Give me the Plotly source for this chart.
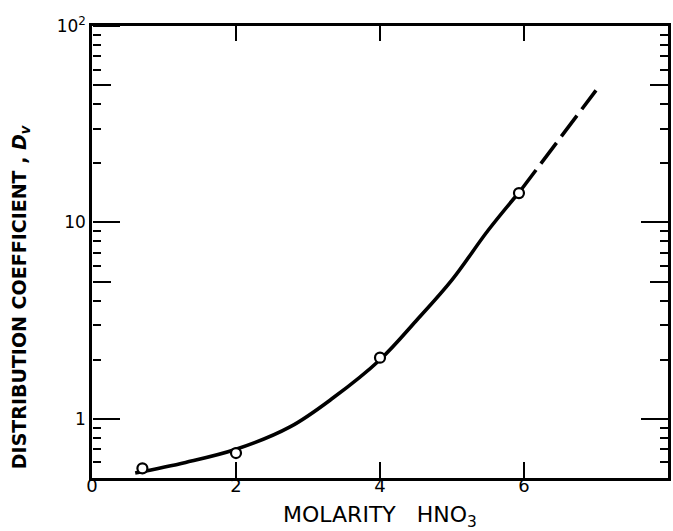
import plotly.graph_objects as go
import math

# Smooth fitted curve (solid)
curve_x = [0.6, 1.3, 2.0, 2.75, 3.35, 4.0, 4.5, 5.0, 5.5, 5.95]
curve_y = [0.53, 0.6, 0.7, 0.91, 1.28, 2.0, 3.15, 5.1, 9.1, 14.5]
# Extrapolated part (dashed)
ext_x = [5.95, 7.0]
ext_y = [14.5, 47]
# Measured points
pts_x = [0.7, 2.0, 4.0, 5.93]
pts_y = [0.56, 0.67, 2.05, 14.1]

x_ticks = [0, 2, 4, 6, 8]
x_tick_text = ["0", "2", "4", "6", "8"]
x_inner = [2, 4, 6]
y_ticks = [1, 10, 100]
y_tick_text = ["1", "10", "10<sup>2</sup>"]
y_minor = [0.6, 0.7, 0.8, 0.9, 2, 3, 4, 6, 7, 8, 9, 20, 30, 40, 60, 70, 80, 90]
y_mid = [5, 50]

FONT = "DejaVu Sans, Liberation Sans, sans-serif"

fig = go.Figure()
fig.add_trace(go.Scatter(x=curve_x, y=curve_y, mode="lines", line=dict(color="black", width=3.6, shape="spline"), showlegend=False))
fig.add_trace(go.Scatter(x=ext_x, y=ext_y, mode="lines", line=dict(color="black", width=3.6, dash="26px,8px"), showlegend=False))
fig.add_trace(go.Scatter(x=pts_x, y=pts_y, mode="markers",
                         marker=dict(symbol="circle", size=10, color="white", line=dict(color="black", width=2.2)),
                         showlegend=False))
# empty traces so the extra tick axes are drawn
for xa, ya in [("x", "y2"), ("x", "y3"), ("x", "y4"), ("x", "y5"), ("x2", "y")]:
    fig.add_trace(go.Scatter(x=[None], y=[None], xaxis=xa, yaxis=ya, showlegend=False, hoverinfo="skip"))

yr = [math.log10(0.5), 2]
base = dict(tickwidth=2, tickcolor="black", showgrid=False, zeroline=False)
minor_in = dict(tickmode="array", tickvals=y_minor, ticks="inside", ticklen=8, tickwidth=2,
                tickcolor="black", showgrid=False)
minor_out = dict(minor_in, ticks="outside")
fig.update_layout(
    width=673, height=531,
    margin=dict(l=92, r=5, t=26, b=53),
    paper_bgcolor="white", plot_bgcolor="rgba(0,0,0,0)",
    font=dict(family=FONT, color="black", size=16),
    xaxis=dict(range=[0, 8], tickvals=x_ticks, ticktext=x_tick_text, ticks="inside", ticklen=16,
               showline=True, linewidth=2.5, linecolor="black", ticklabelstandoff=-10,
               tickfont=dict(size=18, family=FONT), **base),
    xaxis2=dict(range=[0, 8], overlaying="x", side="top", tickvals=x_inner, ticks="inside", ticklen=15,
                showticklabels=False, showline=True, linewidth=2.5, linecolor="black", **base),
    # left axis: line and labels
    yaxis=dict(type="log", range=yr, tickvals=y_ticks, ticktext=y_tick_text, ticks="",
               showline=True, linewidth=2.5, linecolor="black",
               tickfont=dict(size=17, family=FONT), **base),
    # right axis with inward ticks
    yaxis2=dict(type="log", range=yr, overlaying="y", side="right", tickvals=y_ticks, ticks="inside", ticklen=27,
                showticklabels=False, showline=True, linewidth=2.5, linecolor="black",
                minor=minor_in, **base),
    yaxis4=dict(type="log", range=yr, overlaying="y", side="right", tickvals=y_mid, ticks="inside", ticklen=18,
                showticklabels=False, showline=False, **base),
    # left-edge tick axes pointing into the plot
    yaxis3=dict(type="log", range=yr, overlaying="y", side="right", anchor="free", position=0,
                tickvals=y_ticks, ticks="outside", ticklen=27, showticklabels=False, showline=False,
                minor=minor_out, **base),
    yaxis5=dict(type="log", range=yr, overlaying="y", side="right", anchor="free", position=0,
                tickvals=y_mid, ticks="outside", ticklen=18, showticklabels=False, showline=False, **base),
    annotations=[
        dict(text="<b>DISTRIBUTION COEFFICIENT , <i>D<sub>v</sub></i></b>",
             xref="paper", yref="paper", x=-0.125, y=0.40, textangle=-90,
             showarrow=False, font=dict(size=19, family=FONT, color="black"),
             xanchor="center", yanchor="middle"),
        dict(text="MOLARITY   HNO<sub>3</sub>", xref="paper", yref="paper", x=0.5, y=-0.085,
             showarrow=False, font=dict(size=22, family=FONT, color="black"),
             xanchor="center", yanchor="middle"),
    ],
)

fig.write_html("out.html", config={"displayModeBar": False},
               post_script="document.body.style.margin='0';document.body.style.overflow='hidden';")
